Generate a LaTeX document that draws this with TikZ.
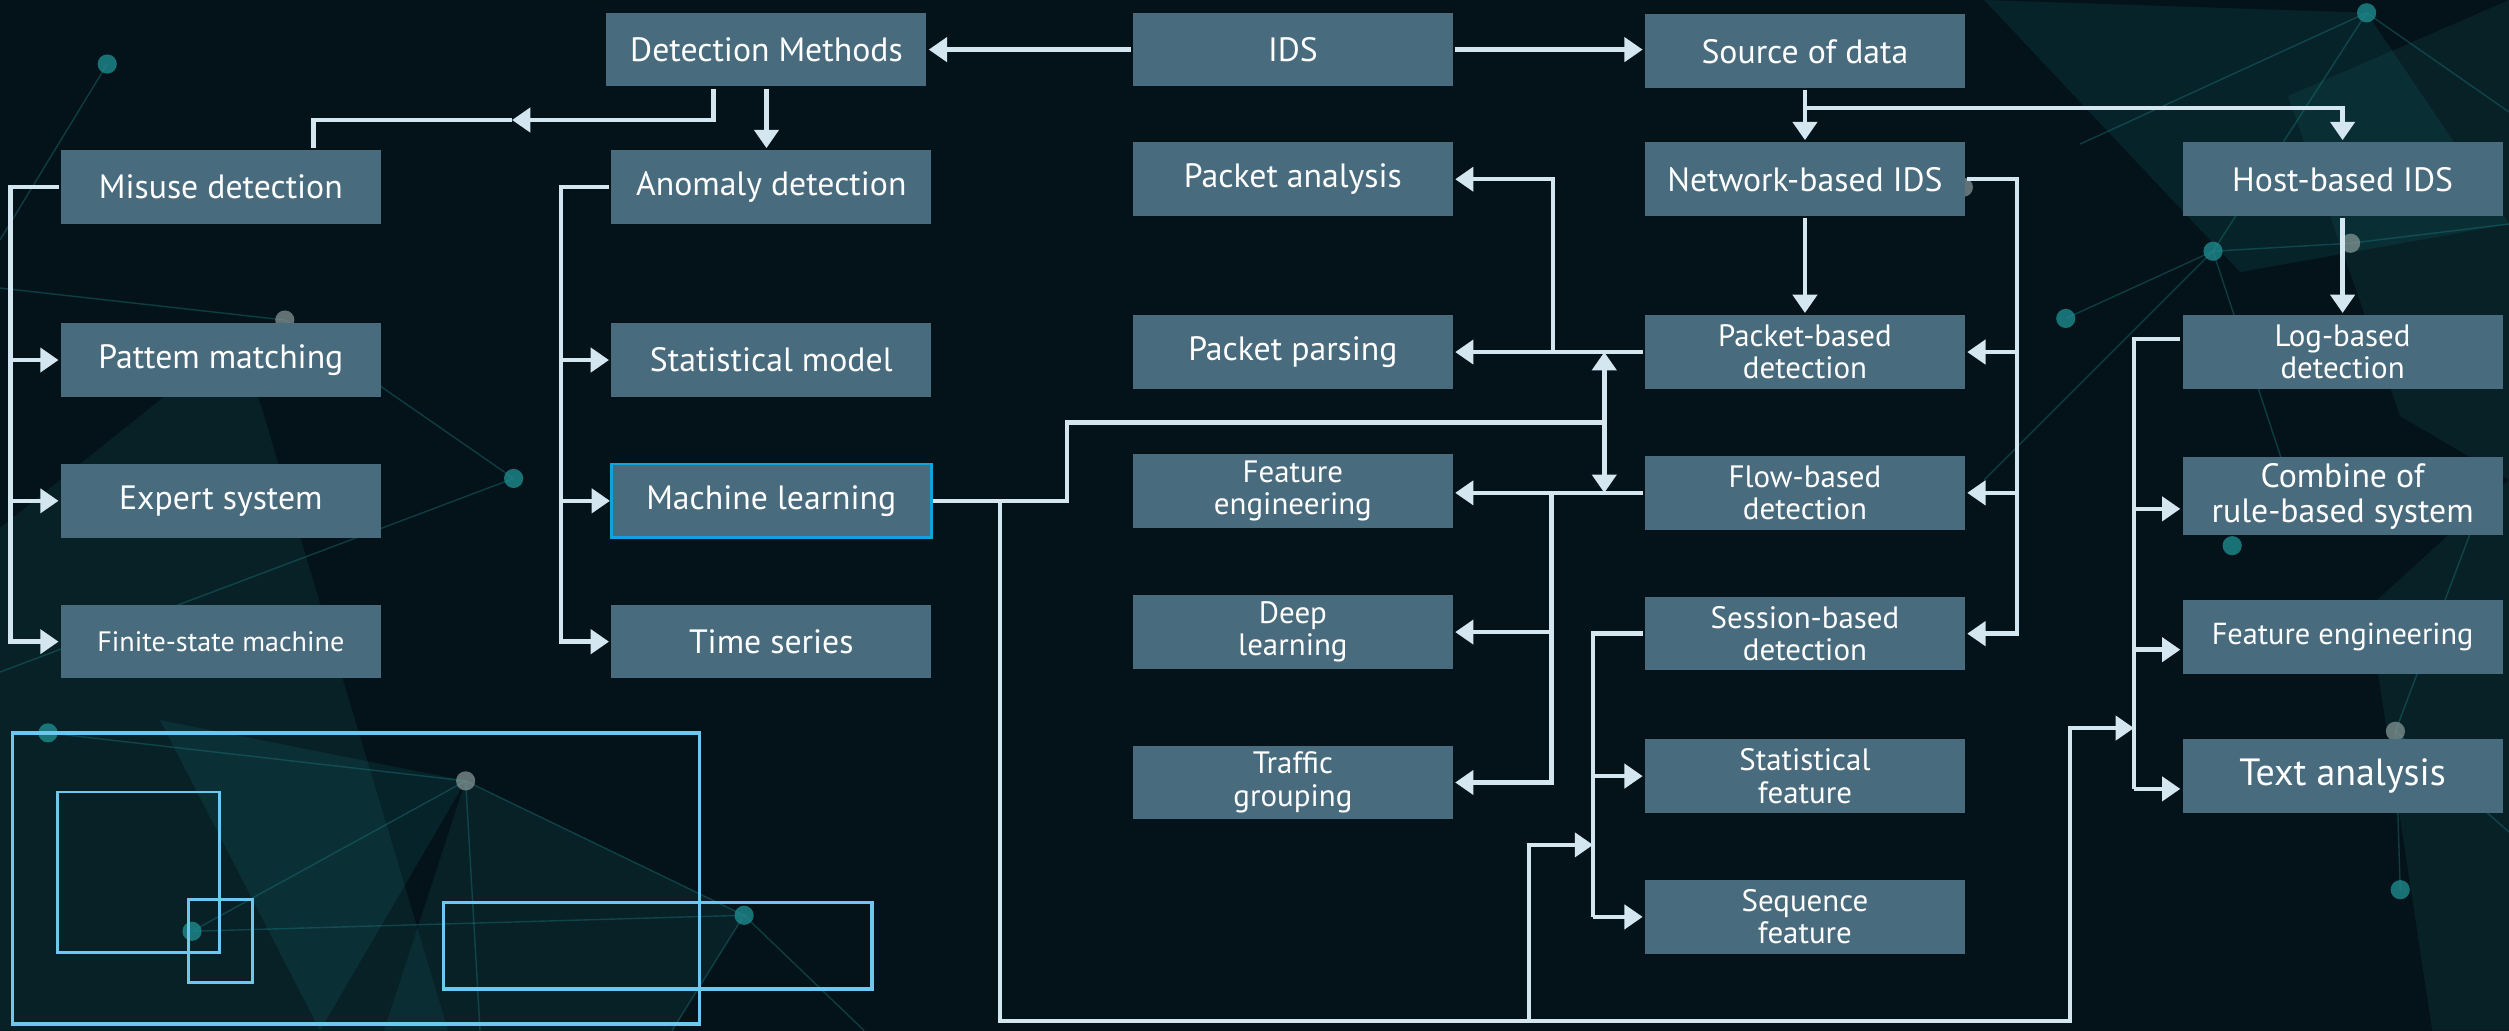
\documentclass[tikz,border=0pt]{standalone}
\usepackage{fontspec}
\setmainfont{PT Sans}
\usepackage{tikz}
\usetikzlibrary{arrows.meta,positioning}

\definecolor{bgdark}{HTML}{04131A}
\definecolor{boxfill}{HTML}{496B7E}
\definecolor{wire}{HTML}{D4E6F0}
\definecolor{mlcyan}{HTML}{12A2DE}
\definecolor{frameblue}{HTML}{6CC8EE}
\definecolor{netteal}{HTML}{1E8A8C}
\definecolor{netgrey}{HTML}{8A9A9A}

\begin{document}
\begin{tikzpicture}[x=0.2mm,y=-0.2mm,->,>={Triangle[length=6.5pt,width=8.5pt]},
                    line width=1.6pt,color=wire,node distance=1.76cm,
                    box/.style={rectangle,fill=boxfill,text=white,minimum width=4cm,
                      minimum height=0.92cm,inner sep=2pt,align=center,
                      font=\fontsize{12}{14}\selectfont},
                    twoline/.style={box,font=\fontsize{11}{11.5}\selectfont}]

  \useasboundingbox (0,0) rectangle (1568,644);

  % background
  \begin{scope}[-,line width=0.5pt]
    \fill[bgdark] (0,0) rectangle (1568,644);
    \fill[netteal,opacity=0.12] (0,330) -- (150,210) -- (280,644) -- (0,644) -- cycle;
    \fill[netteal,opacity=0.14] (100,450) -- (291,488) -- (200,644) -- cycle;
    \fill[netteal,opacity=0.12] (291,488) -- (465,572) -- (420,644) -- (240,644) -- cycle;
    \fill[netteal,opacity=0.14] (1240,0) -- (1479,8) -- (1568,140) -- (1400,170) -- cycle;
    \fill[netteal,opacity=0.12] (1430,60) -- (1568,0) -- (1568,300) -- (1500,260) -- cycle;
    \fill[netteal,opacity=0.12] (1480,380) -- (1568,300) -- (1568,644) -- (1520,644) -- cycle;
    \begin{scope}[netteal,opacity=0.35]
      \draw (67,40) -- (0,150);
      \draw (178,200) -- (0,180);
      \draw (178,200) -- (321,299) -- (0,420);
      \draw (291,488) -- (120,582) -- (465,572) -- (291,488) -- (30,458);
      \draw (465,572) -- (420,644);
      \draw (465,572) -- (540,644);
      \draw (291,488) -- (300,644);
      \draw (1479,8) -- (1300,90);
      \draw (1479,8) -- (1568,70);
      \draw (1479,8) -- (1383,157) -- (1469,152) -- (1568,140);
      \draw (1291,199) -- (1383,157) -- (1240,300);
      \draw (1383,157) -- (1440,330);
      \draw (1497,457) -- (1545,330);
      \draw (1497,457) -- (1500,556);
      \draw (1497,457) -- (1568,520);
    \end{scope}
    \foreach \p in {(67,40),(321,299),(120,582),(465,572),(30,458),(1479,8),(1383,157),(1291,199),(1500,556),(1395,341)}
      \fill[netteal,opacity=0.8] \p circle (6);
    \foreach \p in {(178,200),(291,488),(1469,152),(1227,117),(1497,457)}
      \fill[netgrey,opacity=0.7] \p circle (6);
    \begin{scope}[frameblue]
      \draw[line width=1.2pt] (8,458) rectangle (437,640);
      \draw[line width=1pt] (36,495) rectangle (137,595);
      \draw[line width=1pt] (118,562) rectangle (158,614);
      \draw[line width=1.2pt] (277,564) rectangle (545,618);
    \end{scope}
  \end{scope}

  % top row
  \node[box] (detect) at (479,31) {Detection Methods};
  \node[box] (ids) at (808,31) {IDS};
  \node[box] (source) at (1128,32) {Source of data};

  % misuse column
  \node[box] (misuse) at (138,117) {Misuse detection};
  \node[box,node distance=2.16cm,below of=misuse] (pattern) {Pattem matching};
  \node[box,below of=pattern] (expert) {Expert system};
  \node[box,below of=expert] (fsm) {\fontsize{10}{12}\selectfont Finite-state machine};

  % anomaly column
  \node[box] (anomaly) at (482,117) {Anomaly detection};
  \node[box,node distance=2.16cm,below of=anomaly] (statmodel) {Statistical model};
  \node[box,draw=mlcyan,line width=0.9pt,below of=statmodel] (ml) {Machine learning};
  \node[box,below of=ml] (timeser) {Time series};

  % packet / flow outputs
  \node[box] (pktana) at (808,112) {Packet analysis};
  \node[box,node distance=2.16cm,below of=pktana] (pktparse) {Packet parsing};
  \node[twoline,node distance=1.74cm,below of=pktparse] (feateng) {Feature\\engineering};
  \node[twoline,below of=feateng] (deep) {Deep\\learning};
  \node[twoline,node distance=1.88cm,below of=deep] (traffic) {Traffic\\grouping};

  % network-based column
  \node[box] (network) at (1128,112) {Network-based IDS};
  \node[twoline,node distance=2.16cm,below of=network] (pktbased) {Packet-based\\detection};
  \node[twoline,below of=pktbased] (flow) {Flow-based\\detection};
  \node[twoline,below of=flow] (session) {Session-based\\detection};
  \node[twoline,node distance=1.78cm,below of=session] (statfeat) {Statistical\\feature};
  \node[twoline,below of=statfeat] (seqfeat) {Sequence\\feature};

  % host-based column
  \node[box] (host) at (1464,112) {Host-based IDS};
  \node[twoline,node distance=2.16cm,below of=host] (logbased) {Log-based\\detection};
  \node[box,node distance=1.8cm,below of=logbased,
        font=\fontsize{12}{12.5}\selectfont] (combine) {Combine of\\rule-based system};
  \node[box,below of=combine,font=\fontsize{10.8}{12}\selectfont] (featright) {Feature engineering};
  \node[box,node distance=1.74cm,below of=featright,
        font=\fontsize{13.5}{15}\selectfont] (textana) {Text analysis};

  % helper points
  \coordinate (foot) at (0,638);
  \coordinate (hosty) at (0,455);
  \coordinate (sessy) at (0,528);
  \coordinate (huby) at (0,264);
  \coordinate (logbus) at ([xshift=-5.8mm,yshift=1.6mm]logbased.west);
  \coordinate (sessbus) at ([xshift=-6.2mm]session.west);
  \coordinate (hostin) at (logbus |- hosty);
  \coordinate (sessin) at (sessbus |- sessy);
  \coordinate (hostup) at ([xshift=-8mm]hostin);
  \coordinate (sessup) at ([xshift=-8mm]sessin);
  \coordinate (hubx) at ([xshift=-4.8mm]pktbased.west);
  \coordinate (mlhub) at (hubx |- huby);
  \coordinate (mldown) at ([xshift=8.4mm]ml.east);
  \coordinate (split) at (320,75);

  % IDS
  \draw (ids.west) -- (detect.east);
  \draw (ids.east) -- (ids.east -| source.west);

  % detection methods
  \draw ([xshift=-6.6mm]detect.south) |- (split);
  \draw[-] (split) -| ([xshift=11.6mm]misuse.north);
  \draw (detect.south) -- (detect.south |- anomaly.north);
  \draw (misuse.west) -- ++(-30,0) |- (fsm.west);
  \foreach \n in {pattern,expert}
    \draw ([xshift=-6mm]\n.west) -- (\n.west);
  \draw (anomaly.west) -- ++(-30,0) |- (timeser.west);
  \foreach \n in {statmodel,ml}
    \draw ([xshift=-6mm]\n.west) -- (\n.west);

  % source of data
  \draw (source.south) -- (network.north);
  \draw ([yshift=-2.2mm]source.south) -| (host.north);
  \draw (network.south) -- (pktbased.north);
  \draw (host.south) -- (host.south |- logbased.north);
  \draw (network.east) -- ++(31,0) |- (session.east);
  \foreach \n in {pktbased,flow}
    \draw ([xshift=6.2mm]\n.east) -- (\n.east);

  % packet / flow / session
  \draw (pktbased.west) -- (pktparse.east);
  \draw ([xshift=-11.2mm]pktbased.west) |- (pktana.east);
  \draw (flow.west) -- (flow.west -| feateng.east);
  \foreach \n in {deep,traffic}
    \draw ([xshift=-11.4mm]flow.west) |- (\n.east);
  \draw[-] (session.west) -- (sessbus) |- ([xshift=-6.2mm]seqfeat.west);
  \foreach \n in {statfeat,seqfeat}
    \draw ([xshift=-6.2mm]\n.west) -- (\n.west);

  % log-based
  \draw[-] ([yshift=1.6mm]logbased.west) -- (logbus) |- ([xshift=-5.8mm,yshift=-1.6mm]textana.west);
  \foreach \n in {combine,featright,textana}
    \draw ([xshift=-5.8mm,yshift=-1.6mm]\n.west) -- ([yshift=-1.6mm]\n.west);

  % machine learning
  \draw[-] (ml.east) -- ++(84,0) |- (mlhub);
  \draw (mlhub) -- (mlhub |- pktbased.west);
  \draw (mlhub) -- (mlhub |- flow.west);
  \draw (mldown) |- (hostup |- foot) |- (hostin);
  \draw (sessup |- foot) |- (sessin);

\end{tikzpicture}
\end{document}
